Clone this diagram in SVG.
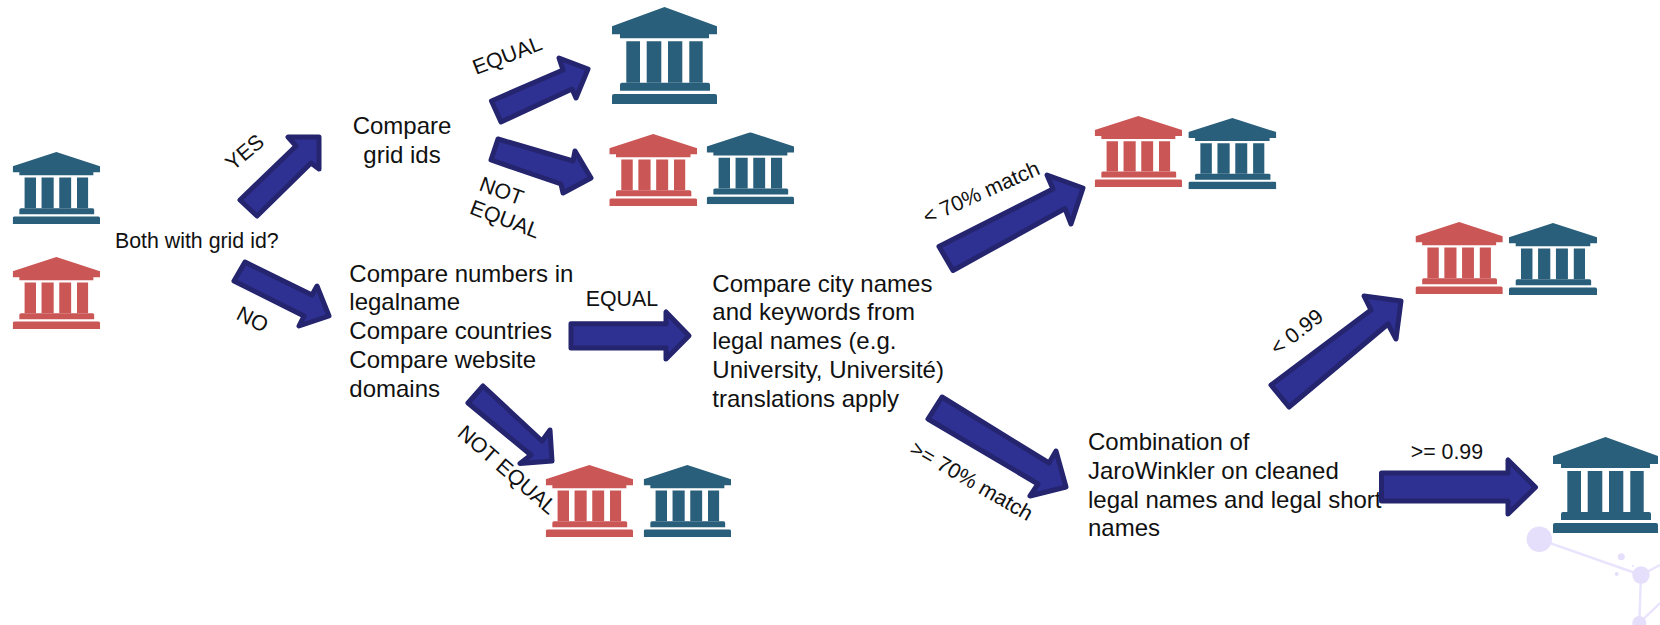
<svg xmlns="http://www.w3.org/2000/svg" width="1660" height="625" viewBox="0 0 1660 625">
<style>
text{font-family:"Liberation Sans",Arial,sans-serif;fill:#111}
.big{font-size:24px}
.lab{font-size:21.33px}
.blue{fill:#2a5f7b}
.red{fill:#cb5656}
.arrow{fill:#2e3192;stroke:#24246f;stroke-width:5;stroke-linejoin:round}
.deco{fill:#e5dffc}
.decol{stroke:#e9e3fd;stroke-width:2.4;fill:none}
</style>
<defs>
<symbol id="bank" viewBox="0 0 105 96" preserveAspectRatio="none">
<path d="M52.5 0L105 19V27H97V31H8V27H0V19Z"/>
<path d="M14.3 34H28V75H14.3ZM34.7 34H49.3V75H34.7ZM56 34H70.3V75H56ZM77.3 34H90.7V75H77.3Z"/>
<path d="M10 75H96Q98 75 98 77V83H8V77Q8 75 10 75Z"/>
<path d="M2 86H103Q105 86 105 88V96H0V88Q0 86 2 86Z"/>
</symbol>
</defs>
<rect width="1660" height="625" fill="#fff"/>
<g id="decoration">
<path class="decol" d="M1539.3 539.3L1641 575M1641 575L1660 565M1641 575L1639.3 623M1639.3 623L1660 603"/>
<circle class="deco" cx="1539.3" cy="539.3" r="12.7"/>
<circle class="deco" cx="1641" cy="575" r="8.7"/>
<circle class="deco" cx="1639.3" cy="623" r="7"/>
<circle class="deco" cx="1621.3" cy="556.7" r="3.5"/>
<circle class="deco" cx="1616.7" cy="574" r="2"/>
<circle class="deco" cx="1633" cy="566" r="1"/>
</g>
<g id="inst-blue-start"><use href="#bank" class="blue" x="12.7" y="152" width="87.3" height="72"/></g>
<g id="inst-red-start"><use href="#bank" class="red" x="12.7" y="257" width="87.3" height="72"/></g>
<g id="inst-blue-equal"><use href="#bank" class="blue" x="612" y="7" width="105" height="97"/></g>
<g id="pair-grid-not-equal">
<use href="#bank" class="red" x="609.3" y="134" width="87.9" height="72"/>
<use href="#bank" class="blue" x="706.7" y="132.3" width="87.3" height="72"/>
</g>
<g id="pair-not-equal">
<use href="#bank" class="red" x="545.7" y="465" width="87.3" height="72"/>
<use href="#bank" class="blue" x="643.7" y="465" width="87.3" height="72"/>
</g>
<g id="pair-under-70">
<use href="#bank" class="red" x="1094.7" y="116" width="87.3" height="71"/>
<use href="#bank" class="blue" x="1188.4" y="118" width="87.9" height="71.3"/>
</g>
<g id="pair-under-99">
<use href="#bank" class="red" x="1415.5" y="222" width="87.3" height="72"/>
<use href="#bank" class="blue" x="1509" y="223" width="88" height="72"/>
</g>
<g id="inst-blue-final"><use href="#bank" class="blue" x="1553" y="437" width="105" height="96"/></g>
<g id="q-both"><text class="lab" x="115" y="248">Both with grid id?</text></g>
<g id="q-grid">
<text class="big" x="402" y="134" text-anchor="middle">Compare</text>
<text class="big" x="402" y="163" text-anchor="middle">grid ids</text>
</g>
<g id="q-numbers">
<text class="big" x="349.3" y="281.5">Compare numbers in</text>
<text class="big" x="349.3" y="310.3">legalname</text>
<text class="big" x="349.3" y="339.1">Compare countries</text>
<text class="big" x="349.3" y="367.9">Compare website</text>
<text class="big" x="349.3" y="396.7">domains</text>
</g>
<g id="q-city">
<text class="big" x="712.3" y="291.5">Compare city names</text>
<text class="big" x="712.3" y="320.3">and keywords from</text>
<text class="big" x="712.3" y="349.1">legal names (e.g.</text>
<text class="big" x="712.3" y="377.9">University, Université)</text>
<text class="big" x="712.3" y="406.7">translations apply</text>
</g>
<g id="q-jaro">
<text class="big" x="1088" y="450">Combination of</text>
<text class="big" x="1088" y="478.8">JaroWinkler on cleaned</text>
<text class="big" x="1088" y="507.6">legal names and legal short</text>
<text class="big" x="1088" y="536.4">names</text>
</g>
<g id="connectors">
<polygon class="arrow" points="240,200 296,146 288,137 319,137 319,169 311,163 257,216"/>
<polygon class="arrow" points="245,262 234,281 304,316 299,326 329,316 317,286 312,295"/>
<polygon class="arrow" points="491.5,101 501,122 572,89 576,98 588,69 559,58 563,70"/>
<polygon class="arrow" points="498,139 491,160 561,184 563,193 591,178 575,151 573,161"/>
<polygon class="arrow" points="571,323.8 571,348 666,348 666,359 689,335.7 666,312 666,323.8"/>
<polygon class="arrow" points="483,386 468,403 531,455 520,463.5 552,461 550,430 542,441"/>
<polygon class="arrow" points="939,246.5 953,270.5 1065,208.5 1071,224 1083,188 1047,175 1053,189"/>
<polygon class="arrow" points="942,397 928,419 1038,484 1030,496 1066,487 1056,451 1049,463"/>
<polygon class="arrow" points="1271,385 1289,407 1388,324 1396,339 1401,301 1364,296 1371,310"/>
<polygon class="arrow" points="1381.5,473 1381.5,501 1508,501 1508,514 1535.5,487.3 1508,460 1508,473"/>
<text class="lab" transform="translate(233 171.5) rotate(-40)">YES</text>
<text class="lab" transform="translate(476 75) rotate(-21)">EQUAL</text>
<text class="lab" transform="translate(478 190) rotate(20)">NOT</text>
<text class="lab" transform="translate(468.6 213.3) rotate(20.5)">EQUAL</text>
<text class="lab" transform="translate(235 318.5) rotate(27)">NO</text>
<text class="lab" x="585.7" y="306">EQUAL</text>
<text class="lab" transform="translate(456.3 435) rotate(41)">NOT EQUAL</text>
<text class="lab" transform="translate(927 224.5) rotate(-24)">&lt; 70% match</text>
<text class="lab" transform="translate(908.5 452.7) rotate(30)">&gt;= 70% match</text>
<text class="lab" transform="translate(1277.6 356) rotate(-38)">&lt; 0.99</text>
<text class="lab" x="1410.7" y="459.3">&gt;= 0.99</text>
</g>
</svg>
